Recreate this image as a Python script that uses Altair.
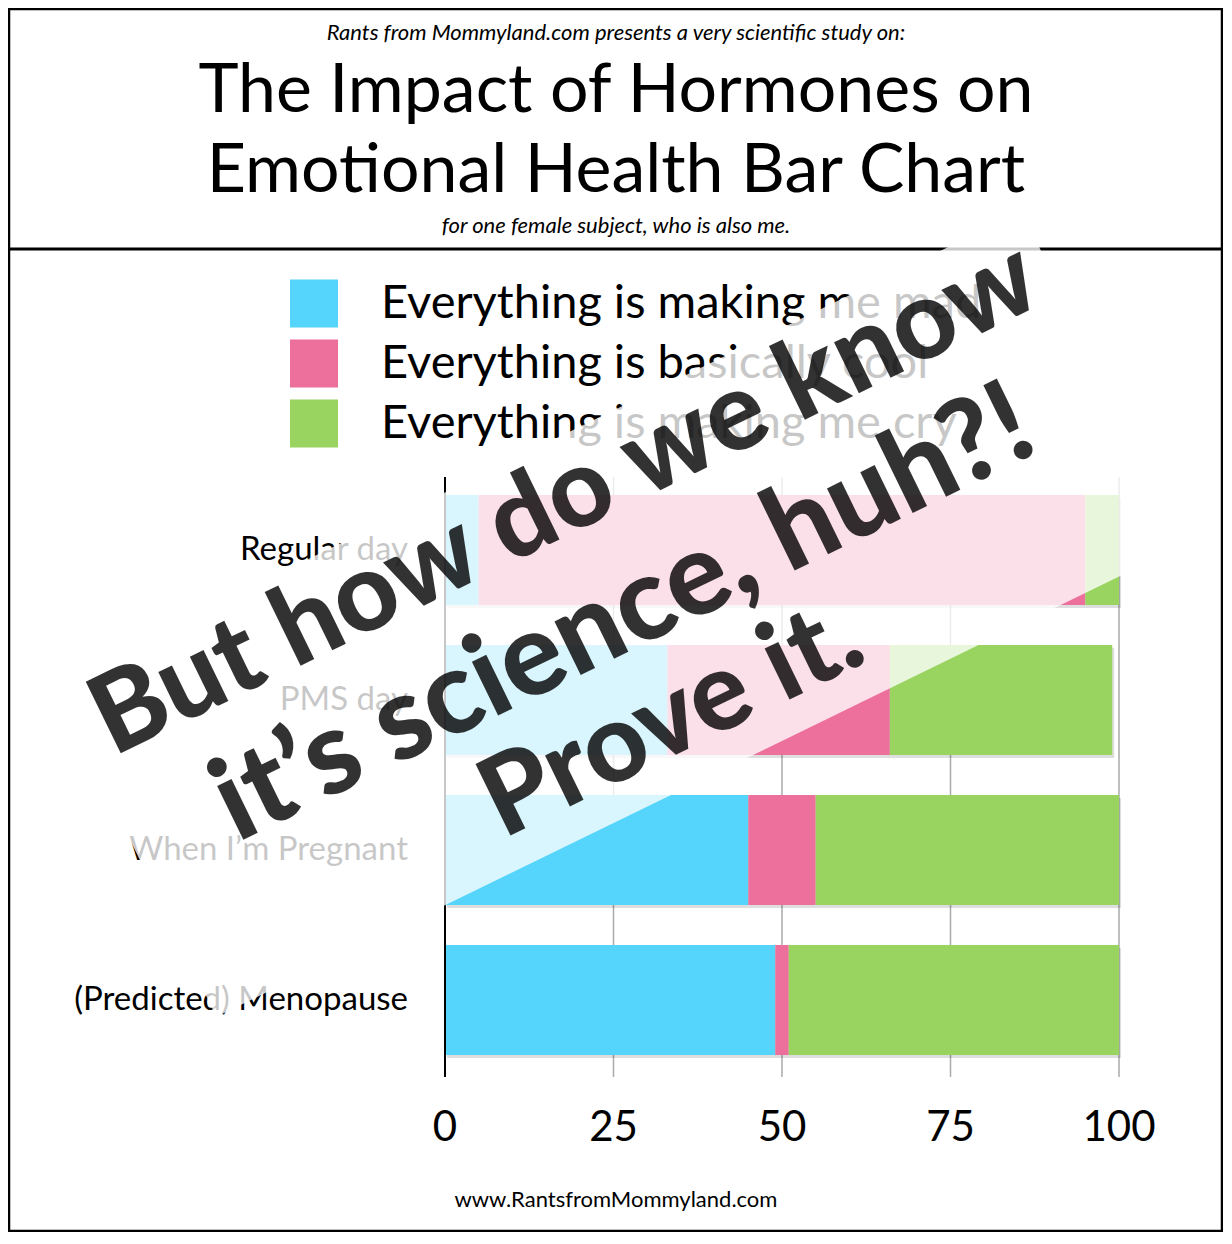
import altair as alt
import pandas as pd

# ---------------- data ----------------
categories = ["Regular day", "PMS day", "When I’m Pregnant", "(Predicted) Menopause"]
series = ["Everything is making me mad", "Everything is basically cool", "Everything is making me cry"]
colors = ["#55D4FC", "#EC6F9C", "#98D45F"]
mad = [5, 33, 45, 49]
cool = [90, 33, 10, 2]
cry = [5, 33, 45, 49]
ticks = [0, 25, 50, 75, 100]
tick_labels = ["0", "25", "50", "75", "100"]

kicker = "Rants from Mommyland.com presents a very scientific study on:"
title_lines = ["The Impact of Hormones on", "Emotional Health Bar Chart"]
subtitle = "for one female subject, who is also me."
footer = "www.RantsfromMommyland.com"
stamp_lines = ["But how do we know", "it’s science, huh?!", "Prove it."]

# ---------------- tables ----------------
rows = []
for i, c in enumerate(categories):
    for j, (s, v) in enumerate(zip(series, [mad[i], cool[i], cry[i]])):
        rows.append({"cat": c, "series": s, "value": v, "order": j})
bars_df = pd.DataFrame(rows)
tot_df = pd.DataFrame({"cat": categories,
                       "total": [a + b + c for a, b, c in zip(mad, cool, cry)]})
ticks_df = pd.DataFrame({"tick": ticks, "label": tick_labels})
legend_df = pd.DataFrame({"series": series, "idx": [0, 1, 2]})
cat_df = pd.DataFrame({"cat": categories})
one = pd.DataFrame({"a": [0]})

W, H = 1213, 1222
FONT = "Lato"

xscale = alt.Scale(domain=[0, 100], range=[436, 1110], nice=False, zero=True)
yscale = alt.Scale(domain=categories, range=[466, 1066], paddingInner=0.267, paddingOuter=0.133)
cscale = alt.Scale(domain=series, range=colors)

grid = alt.Chart(ticks_df[ticks_df.tick > 0]).mark_rule(color="#aaaaaa", strokeWidth=1.5).encode(
    x=alt.X("tick:Q", scale=xscale, axis=None), y=alt.value(468), y2=alt.value(1068))

axis_line = alt.Chart(ticks_df[ticks_df.tick == 0]).mark_rule(color="black", strokeWidth=2).encode(
    x=alt.X("tick:Q", scale=xscale, axis=None), y=alt.value(468), y2=alt.value(1068))

shadow = alt.Chart(tot_df).mark_bar(color="#000000", opacity=0.13, xOffset=2, x2Offset=2,
                                    yOffset=3, y2Offset=3).encode(
    x=alt.X("zero:Q", scale=xscale, axis=None), x2="total:Q",
    y=alt.Y("cat:N", scale=yscale, axis=None, sort=categories)).transform_calculate(zero="0")

bars = alt.Chart(bars_df).mark_bar().encode(
    x=alt.X("value:Q", stack="zero", scale=xscale, axis=None),
    y=alt.Y("cat:N", scale=yscale, axis=None, sort=categories),
    color=alt.Color("series:N", scale=cscale, legend=None),
    order=alt.Order("order:Q"))

tick_text = alt.Chart(ticks_df).mark_text(font=FONT, fontSize=42, baseline="middle", align="center",
                                          color="black").encode(
    x=alt.X("tick:Q", scale=xscale, axis=None), y=alt.value(1119), text="label:N")

cat_text = alt.Chart(cat_df).mark_text(font=FONT, fontSize=33, baseline="middle", align="right",
                                       color="black").encode(
    x=alt.value(399), y=alt.Y("cat:N", scale=yscale, axis=None, sort=categories), text="cat:N")

lscale = alt.Scale(type="point", domain=[0, 1, 2], range=[294.5, 414.5], padding=0)
leg_sq = alt.Chart(legend_df).mark_square(size=48 * 48, opacity=1, filled=True).encode(
    x=alt.value(305), y=alt.Y("idx:O", scale=lscale, axis=None),
    color=alt.Color("series:N", scale=cscale, legend=None))
leg_txt = alt.Chart(legend_df).mark_text(font=FONT, fontSize=47, align="left", baseline="middle",
                                         color="black").encode(
    x=alt.value(372), y=alt.Y("idx:O", scale=lscale, axis=None), text="series:N")

hdr1 = alt.Chart(one).mark_text(text=kicker, font=FONT, fontSize=22, fontStyle="italic",
                                align="center", baseline="middle", color="black").encode(
    x=alt.value(607), y=alt.value(24))
hdr2 = alt.Chart(one).mark_text(text=title_lines[0], font=FONT, fontSize=68, align="center",
                                baseline="middle", color="black").encode(x=alt.value(607), y=alt.value(83))
hdr3 = alt.Chart(one).mark_text(text=title_lines[1], font=FONT, fontSize=68, align="center",
                                baseline="middle", color="black").encode(x=alt.value(607), y=alt.value(163))
hdr4 = alt.Chart(one).mark_text(text=subtitle, font=FONT, fontSize=22, fontStyle="italic",
                                align="center", baseline="middle", color="black").encode(
    x=alt.value(607), y=alt.value(217))
hdr_rule = alt.Chart(one).mark_rule(color="black", strokeWidth=3).encode(
    x=alt.value(0), x2=alt.value(W), y=alt.value(240))
foot = alt.Chart(one).mark_text(text=footer, font=FONT, fontSize=22, align="center",
                                baseline="middle", color="black").encode(x=alt.value(607), y=alt.value(1191))

veil_path = "M-1,-0.3445L1,-0.3445L1,0.3445L-1,0.3445Z"
veil = alt.Chart(one).mark_point(shape=veil_path, filled=True, fill="white", fillOpacity=0.78,
                                 strokeOpacity=0, size=1077 * 1077, angle=334).encode(
    x=alt.value(610), y=alt.value(605))


def stamp_line(txt, size, px, py):
    return alt.Chart(one).mark_text(text=txt, font=FONT, fontWeight=900, fontSize=size,
                                    align="center", baseline="middle", angle=334,
                                    color="black", opacity=0.8).encode(x=alt.value(px), y=alt.value(py))


stamp1 = stamp_line(stamp_lines[0], 110, 556, 491)
stamp2 = stamp_line(stamp_lines[1], 116, 615, 606)
stamp3 = stamp_line(stamp_lines[2], 110, 663, 711)

chart = alt.layer(grid, shadow, bars, axis_line, tick_text, cat_text, leg_sq, leg_txt,
                  hdr1, hdr2, hdr3, hdr4, hdr_rule, foot, veil, stamp1, stamp2, stamp3).resolve_scale(
    y="independent").properties(
    width=W, height=H, autosize=alt.AutoSizeParams(type="none"),
    padding={"left": 1, "top": 1, "right": 1, "bottom": 1}
).configure_view(stroke="black", strokeWidth=2.5)

chart.save("out.html", embed_options={"renderer": "svg", "actions": False})
